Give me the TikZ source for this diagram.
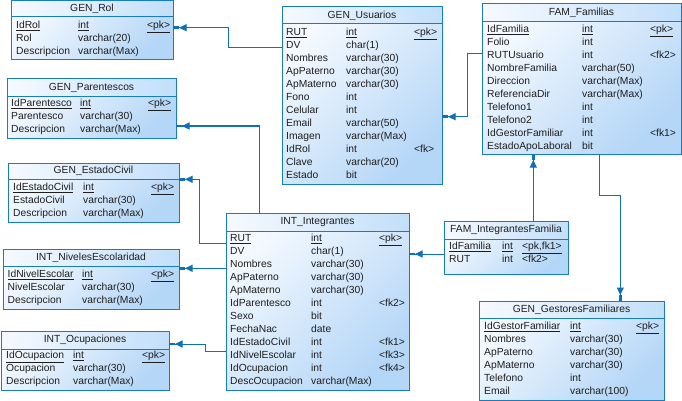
\documentclass[tikz,border=0pt]{standalone}
\usepackage{fontspec}
\setmainfont{Liberation Sans}
\usetikzlibrary{arrows.meta}

\definecolor{erline}{RGB}{24,124,196}
\definecolor{erwire}{RGB}{14,112,184}
\definecolor{erlight}{RGB}{246,250,255}
\definecolor{erdeep}{RGB}{180,214,247}
\definecolor{erhead}{RGB}{194,223,250}
\definecolor{ertext}{RGB}{30,30,30}

\tikzset{
  tablebox/.style={rectangle, inner sep=0pt, outer sep=0pt,
    top color=erlight, bottom color=erdeep, shading angle=45},
  headshade/.style={left color=erlight, right color=erhead},
  boxline/.style={draw=erline, line width=1pt},
  titletext/.style={inner sep=0pt, text=ertext, font=\fontsize{10.3}{12}\selectfont},
  rowtext/.style={inner sep=0pt, anchor=mid west, text=ertext, font=\fontsize{10.3}{12}\selectfont},
  fkline/.style={draw=erwire, line width=1pt,
    -{Triangle[length=7.5pt,width=7pt,sep=0pt]Rectangle[length=6pt,width=2.7pt,sep=0pt]}},
}

% table frame: name, left, top, right, bottom, header bottom, title
\newcommand\ertable[7]{%
  \node[tablebox, minimum width={#4-#2}, minimum height={#5-#3}, anchor=north west] (#1) at (#2,#3) {};
  \shade[headshade] (#1.north west) rectangle (#1.east |- 0,#6);
  \draw[boxline] (#1.north west) rectangle (#1.south east);
  \draw[boxline] (#1.west |- 0,#6) -- (#1.east |- 0,#6);
  \node[titletext] (#1-title) at ({(#2+#4)/2},{(#3+#6)/2}) {#7};
}
% one column row: node prefix, y, name, type, key (columns in \cn \ct \ck)
\newcommand\errow[5]{%
  \node[rowtext] (#1n) at (\cn,#2) {#3};
  \node[rowtext] (#1t) at (\ct,#2) {#4};
  \node[rowtext] (#1k) at (\ck,#2) {#5};
}
\newcommand\ul[1]{\underline{#1}}

\begin{document}
\begin{tikzpicture}[x=1pt,y=-1pt]
\fill[white] (0,0) rectangle (682,401);
\useasboundingbox (0,0) rectangle (682,401);

% GEN_Rol
\ertable{rol}{11}{1}{173}{60}{17}{GEN\_Rol}
\def\cn{16}\def\ct{78}\def\ck{147}
\errow{rolA}{26}{\ul{IdRol}}{\ul{int}}{\ul{<pk>}}
\errow{rolB}{39}{Rol}{varchar(20)}{}
\errow{rolC}{52}{Descripcion}{varchar(Max)}{}

% GEN_Parentescos
\ertable{par}{7}{79}{176}{138}{97}{GEN\_Parentescos}
\def\cn{11}\def\ct{80}\def\ck{148}
\errow{parA}{104}{\ul{IdParentesco}}{\ul{int}}{\ul{<pk>}}
\errow{parB}{117}{Parentesco}{varchar(30)}{}
\errow{parC}{130}{Descripcion}{varchar(Max)}{}

% GEN_EstadoCivil
\ertable{ec}{8}{163}{179}{222}{179.5}{GEN\_EstadoCivil}
\def\cn{13}\def\ct{83}\def\ck{151}
\errow{ecA}{188}{\ul{IdEstadoCivil}}{\ul{int}}{\ul{<pk>}}
\errow{ecB}{201}{EstadoCivil}{varchar(30)}{}
\errow{ecC}{214}{Descripcion}{varchar(Max)}{}

% INT_NivelesEscolaridad
\ertable{niv}{3}{249}{179}{309}{266}{INT\_NivelesEscolaridad}
\def\cn{7.5}\def\ct{82}\def\ck{151}
\errow{nivA}{275}{\ul{IdNivelEscolar}}{\ul{int}}{\ul{<pk>}}
\errow{nivB}{288}{NivelEscolar}{varchar(30)}{}
\errow{nivC}{301}{Descripcion}{varchar(Max)}{}

% INT_Ocupaciones
\ertable{ocu}{1}{331}{169}{390}{349}{INT\_Ocupaciones}
\def\cn{6}\def\ct{73}\def\ck{142}
\errow{ocuA}{356}{\ul{IdOcupacion}}{\ul{int}}{\ul{<pk>}}
\errow{ocuB}{369}{Ocupacion}{varchar(30)}{}
\errow{ocuC}{382}{Descripcion}{varchar(Max)}{}

% GEN_Usuarios
\ertable{usu}{282}{7}{442}{184}{24}{GEN\_Usuarios}
\def\cn{286}\def\ct{346}\def\ck{414}
\errow{usuA}{32.7}{\ul{RUT}}{\ul{int}}{\ul{<pk>}}
\errow{usuB}{45.7}{DV}{char(1)}{}
\errow{usuC}{58.7}{Nombres}{varchar(30)}{}
\errow{usuD}{71.7}{ApPaterno}{varchar(30)}{}
\errow{usuE}{84.7}{ApMaterno}{varchar(30)}{}
\errow{usuF}{97.7}{Fono}{int}{}
\errow{usuG}{110.7}{Celular}{int}{}
\errow{usuH}{123.7}{Email}{varchar(50)}{}
\errow{usuI}{136.7}{Imagen}{varchar(Max)}{}
\errow{usuJ}{149.7}{IdRol}{int}{<fk>}
\errow{usuK}{162.7}{Clave}{varchar(20)}{}
\errow{usuL}{175.7}{Estado}{bit}{}

% FAM_Familias
\ertable{fam}{482}{4}{681}{154}{22}{FAM\_Familias}
\def\cn{487}\def\ct{582}\def\ck{650}
\errow{famA}{30}{\ul{IdFamilia}}{\ul{int}}{\ul{<pk>}}
\errow{famB}{43}{Folio}{int}{}
\errow{famC}{56}{RUTUsuario}{int}{<fk2>}
\errow{famD}{69}{NombreFamilia}{varchar(50)}{}
\errow{famE}{82}{Direccion}{varchar(Max)}{}
\errow{famF}{95}{ReferenciaDir}{varchar(Max)}{}
\errow{famG}{108}{Telefono1}{int}{}
\errow{famH}{121}{Telefono2}{int}{}
\errow{famI}{134}{IdGestorFamiliar}{int}{<fk1>}
\errow{famJ}{147}{EstadoApoLaboral}{bit}{}

% INT_Integrantes
\ertable{int}{226}{213}{409}{390}{231}{INT\_Integrantes}
\def\cn{230}\def\ct{311}\def\ck{379}
\errow{intA}{239}{\ul{RUT}}{\ul{int}}{\ul{<pk>}}
\errow{intB}{252}{DV}{char(1)}{}
\errow{intC}{265}{Nombres}{varchar(30)}{}
\errow{intD}{278}{ApPaterno}{varchar(30)}{}
\errow{intE}{291}{ApMaterno}{varchar(30)}{}
\errow{intF}{304}{IdParentesco}{int}{<fk2>}
\errow{intG}{317}{Sexo}{bit}{}
\errow{intH}{330}{FechaNac}{date}{}
\errow{intI}{343}{IdEstadoCivil}{int}{<fk1>}
\errow{intJ}{356}{IdNivelEscolar}{int}{<fk3>}
\errow{intK}{369}{IdOcupacion}{int}{<fk4>}
\errow{intL}{382}{DescOcupacion}{varchar(Max)}{}

% FAM_IntegrantesFamilia
\ertable{fif}{444}{221}{568}{274}{239}{FAM\_IntegrantesFamilia}
\def\cn{449}\def\ct{502}\def\ck{522}
\errow{fifA}{247}{\ul{IdFamilia}}{\ul{int}}{\ul{<pk,fk1>}}
\errow{fifB}{260}{RUT}{int}{<fk2>}

% GEN_GestoresFamiliares
\ertable{ges}{479}{301}{664}{400}{318}{GEN\_GestoresFamiliares}
\def\cn{484}\def\ct{570}\def\ck{636}
\errow{gesA}{326.7}{\ul{IdGestorFamiliar}}{\ul{int}}{\ul{<pk>}}
\errow{gesB}{339.7}{Nombres}{varchar(30)}{}
\errow{gesC}{352.7}{ApPaterno}{varchar(30)}{}
\errow{gesD}{365.7}{ApMaterno}{varchar(30)}{}
\errow{gesE}{378.7}{Telefono}{int}{}
\errow{gesF}{391.7}{Email}{varchar(100)}{}

% foreign key references
\draw[fkline] (usu.west |- 0,47.7) -- (228,47.7) |- (rol.east |- 0,27.7);
\draw[fkline] (int.north -| 259,0) |- (par.east |- 0,126);
\draw[fkline] (int.west |- 0,243.3) -- (199.3,243.3) |- (ec.east |- 0,179.3);
\draw[fkline] (int.west |- 0,268.3) -- (niv.east |- 0,268.3);
\draw[fkline] (int.west |- 0,351.5) -- (205.5,351.5) |- (ocu.east |- 0,344);
\draw[fkline] (fif.west |- 0,254) -- (int.east |- 0,254);
\draw[fkline] (fif.north -| 533.3,0) -- (fam.south -| 533.3,0);
\draw[fkline] (fam.west |- 0,53.3) -- (467.5,53.3) |- (usu.east |- 0,116.7);
\draw[fkline] (fam.south -| 599.3,0) |- (620.3,195) -- (ges.north -| 620.3,0);
\end{tikzpicture}
\end{document}
